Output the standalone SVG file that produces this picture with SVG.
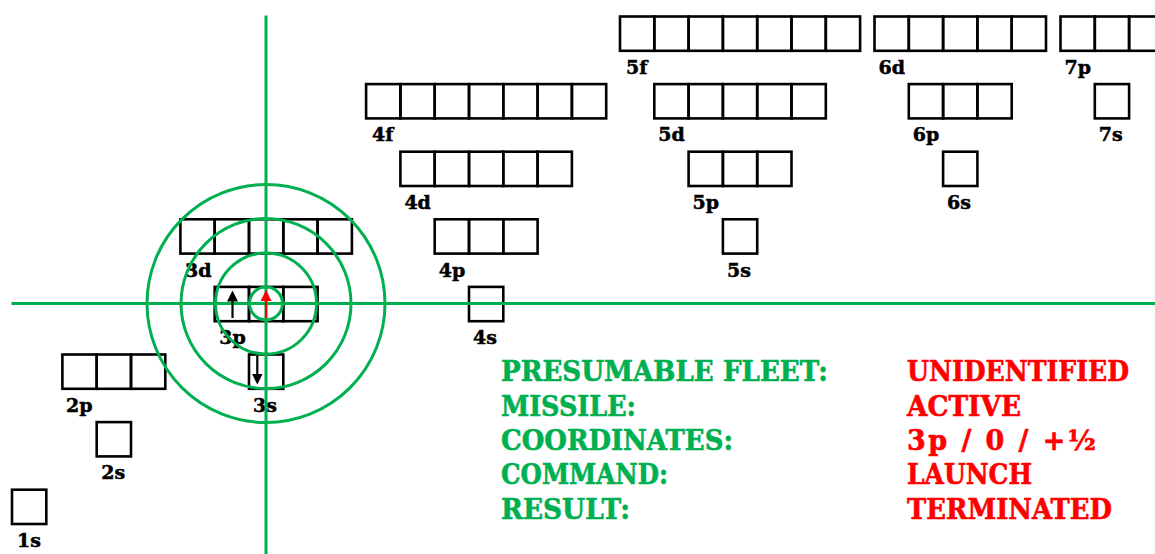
<svg xmlns="http://www.w3.org/2000/svg" width="1155" height="554" viewBox="0 0 1155 554">
  <defs>
    <style>
      .box { fill: none; stroke: #000; stroke-width: 2.6; }
      .lbl { font-family: "DejaVu Serif", "Liberation Serif", serif; font-weight: bold; font-size: 19px; fill: #000; stroke: #000; stroke-width: 0.5; }
      .aim { fill: none; stroke: #00B050; stroke-width: 3; }
      .key { font-family: "DejaVu Serif", "Liberation Serif", serif; font-weight: bold; font-size: 27px; fill: #00B050; stroke: #00B050; stroke-width: 0.6; }
      .val { font-family: "DejaVu Serif", "Liberation Serif", serif; font-weight: bold; font-size: 27px; fill: #FF0000; stroke: #FF0000; stroke-width: 0.6; }
      .spin { stroke-width: 2.2; }
    </style>
    <!-- one orbital box, 34.3 px square -->
    <rect id="cell" width="34.3" height="34.3" class="box"/>
    <!-- arrowheads point along +x; orient turns them with the line -->
    <marker id="headBlack" viewBox="0 0 10 10" refX="5" refY="5" markerWidth="11" markerHeight="11" markerUnits="userSpaceOnUse" orient="auto">
      <path d="M0,0 L10,5 L0,10 Z" fill="#000"/>
    </marker>
    <marker id="headRed" viewBox="0 0 10 10" refX="5" refY="5" markerWidth="11" markerHeight="11" markerUnits="userSpaceOnUse" orient="auto">
      <path d="M0,0 L10,5 L0,10 Z" fill="#FF0000"/>
    </marker>
  </defs>
  <rect width="1155" height="554" fill="#fff"/>

  <!-- subshells: boxes plus label -->
  <g id="s1">
    <use href="#cell" x="12" y="489.7"/>
    <text class="lbl" x="17" y="547">1s</text>
  </g>
  <g id="s2">
    <use href="#cell" x="96.7" y="422.1"/>
    <text class="lbl" x="101.2" y="479.4">2s</text>
  </g>
  <g id="p2">
    <use href="#cell" x="62.4" y="354.5"/><use href="#cell" x="96.7" y="354.5"/><use href="#cell" x="131" y="354.5"/>
    <text class="lbl" x="66" y="411.8">2p</text>
  </g>
  <g id="s3">
    <use href="#cell" x="249" y="354.5"/>
    <text class="lbl" x="253" y="411.8">3s</text>
  </g>
  <g id="p3">
    <use href="#cell" x="214.7" y="286.9"/><use href="#cell" x="249" y="286.9"/><use href="#cell" x="283.3" y="286.9"/>
    <text class="lbl" x="219.2" y="344.2">3p</text>
  </g>
  <g id="d3">
    <use href="#cell" x="180.4" y="219.3"/><use href="#cell" x="214.7" y="219.3"/><use href="#cell" x="249" y="219.3"/><use href="#cell" x="283.3" y="219.3"/><use href="#cell" x="317.6" y="219.3"/>
    <text class="lbl" x="185" y="276.6">3d</text>
  </g>
  <g id="s4">
    <use href="#cell" x="469" y="286.9"/>
    <text class="lbl" x="473" y="344.2">4s</text>
  </g>
  <g id="p4">
    <use href="#cell" x="434.7" y="219.3"/><use href="#cell" x="469" y="219.3"/><use href="#cell" x="503.3" y="219.3"/>
    <text class="lbl" x="438.7" y="276.6">4p</text>
  </g>
  <g id="d4">
    <use href="#cell" x="400.4" y="151.7"/><use href="#cell" x="434.7" y="151.7"/><use href="#cell" x="469" y="151.7"/><use href="#cell" x="503.3" y="151.7"/><use href="#cell" x="537.6" y="151.7"/>
    <text class="lbl" x="404.4" y="209">4d</text>
  </g>
  <g id="f4">
    <use href="#cell" x="366.1" y="84.1"/><use href="#cell" x="400.4" y="84.1"/><use href="#cell" x="434.7" y="84.1"/><use href="#cell" x="469" y="84.1"/><use href="#cell" x="503.3" y="84.1"/><use href="#cell" x="537.6" y="84.1"/><use href="#cell" x="571.9" y="84.1"/>
    <text class="lbl" x="372" y="141.4">4f</text>
  </g>
  <g id="s5">
    <use href="#cell" x="722.9" y="219.3"/>
    <text class="lbl" x="727" y="276.6">5s</text>
  </g>
  <g id="p5">
    <use href="#cell" x="688.6" y="151.7"/><use href="#cell" x="722.9" y="151.7"/><use href="#cell" x="757.2" y="151.7"/>
    <text class="lbl" x="692.6" y="209">5p</text>
  </g>
  <g id="d5">
    <use href="#cell" x="654.3" y="84.1"/><use href="#cell" x="688.6" y="84.1"/><use href="#cell" x="722.9" y="84.1"/><use href="#cell" x="757.2" y="84.1"/><use href="#cell" x="791.5" y="84.1"/>
    <text class="lbl" x="658.3" y="141.4">5d</text>
  </g>
  <g id="f5">
    <use href="#cell" x="620" y="16.5"/><use href="#cell" x="654.3" y="16.5"/><use href="#cell" x="688.6" y="16.5"/><use href="#cell" x="722.9" y="16.5"/><use href="#cell" x="757.2" y="16.5"/><use href="#cell" x="791.5" y="16.5"/><use href="#cell" x="825.8" y="16.5"/>
    <text class="lbl" x="626" y="73.8">5f</text>
  </g>
  <g id="s6">
    <use href="#cell" x="943.1" y="151.7"/>
    <text class="lbl" x="947.1" y="209">6s</text>
  </g>
  <g id="p6">
    <use href="#cell" x="908.8" y="84.1"/><use href="#cell" x="943.1" y="84.1"/><use href="#cell" x="977.4" y="84.1"/>
    <text class="lbl" x="912.8" y="141.4">6p</text>
  </g>
  <g id="d6">
    <use href="#cell" x="874.5" y="16.5"/><use href="#cell" x="908.8" y="16.5"/><use href="#cell" x="943.1" y="16.5"/><use href="#cell" x="977.4" y="16.5"/><use href="#cell" x="1011.7" y="16.5"/>
    <text class="lbl" x="878.5" y="73.8">6d</text>
  </g>
  <g id="s7">
    <use href="#cell" x="1094.8" y="84.1"/>
    <text class="lbl" x="1098.8" y="141.4">7s</text>
  </g>
  <g id="p7">
    <use href="#cell" x="1060.5" y="16.5"/><use href="#cell" x="1094.8" y="16.5"/><use href="#cell" x="1129.1" y="16.5"/>
    <text class="lbl" x="1064.5" y="73.8">7p</text>
  </g>

  <!-- crosshair and range rings -->
  <g id="connectors">
    <line class="aim" x1="266" y1="15.5" x2="266" y2="554"/>
    <line class="aim" x1="11.5" y1="303.5" x2="1155" y2="303.5"/>
    <circle class="aim" cx="266" cy="303.5" r="16.5"/>
    <circle class="aim" cx="266" cy="303.5" r="50.5"/>
    <circle class="aim" cx="266" cy="303.5" r="85"/>
    <circle class="aim" cx="266" cy="303.5" r="119"/>
  </g>

  <!-- electron spins -->
  <g id="spins">
    <line class="spin" x1="232.5" y1="318" x2="232.5" y2="296" stroke="#000" marker-end="url(#headBlack)"/>
    <line class="spin" x1="257.3" y1="356" x2="257.3" y2="379" stroke="#000" marker-end="url(#headBlack)"/>
    <line class="spin" x1="266" y1="318" x2="266" y2="295.5" stroke="#FF0000" stroke-width="2.6" marker-end="url(#headRed)"/>
  </g>

  <!-- status readout -->
  <g id="readout">
    <text class="key" x="501" y="381" textLength="327" lengthAdjust="spacingAndGlyphs">PRESUMABLE FLEET:</text>
    <text class="key" x="501" y="415.5" textLength="135" lengthAdjust="spacingAndGlyphs">MISSILE:</text>
    <text class="key" x="501" y="450" textLength="232" lengthAdjust="spacingAndGlyphs">COORDINATES:</text>
    <text class="key" x="501" y="484" textLength="167" lengthAdjust="spacingAndGlyphs">COMMAND:</text>
    <text class="key" x="501" y="518.5" textLength="129" lengthAdjust="spacingAndGlyphs">RESULT:</text>
    <text class="val" x="907" y="381" textLength="222" lengthAdjust="spacingAndGlyphs">UNIDENTIFIED</text>
    <text class="val" x="907" y="415.5" textLength="114" lengthAdjust="spacingAndGlyphs">ACTIVE</text>
    <text class="val" x="907" y="450" textLength="189" lengthAdjust="spacing">3p / 0 / +½</text>
    <text class="val" x="907" y="484" textLength="125" lengthAdjust="spacingAndGlyphs">LAUNCH</text>
    <text class="val" x="907" y="518.5" textLength="205" lengthAdjust="spacingAndGlyphs">TERMINATED</text>
  </g>
</svg>
